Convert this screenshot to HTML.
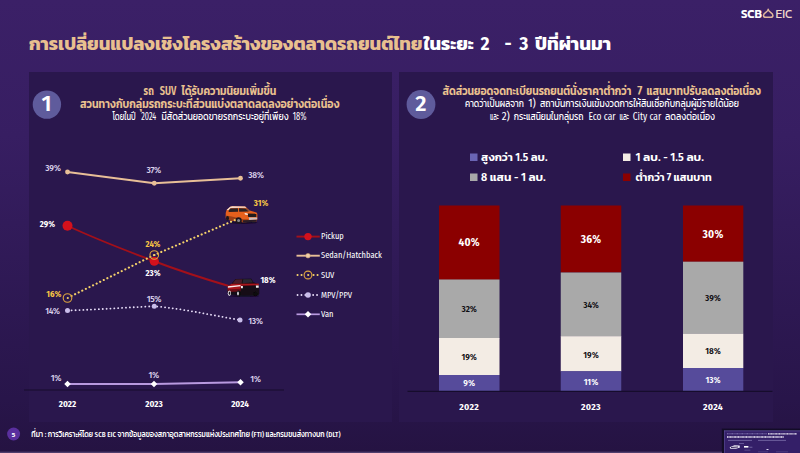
<!DOCTYPE html>
<html lang="th">
<head>
<meta charset="utf-8">
<title>SCB EIC</title>
<style>
html,body{margin:0;padding:0;background:#251342;}
body{width:800px;height:453px;overflow:hidden;position:relative;font-family:"Kanit","Liberation Sans","Noto Sans Thai","Loma",sans-serif;}
svg{position:absolute;left:0;top:0;display:block}
text{font-family:"Kanit","Liberation Sans","Noto Sans Thai","Loma",sans-serif;}
.la, .la text{font-family:"Fira Sans Condensed","Liberation Sans","Kanit",sans-serif;}
.mx, .mx text{font-family:"Fira Sans Condensed","Kanit","Liberation Sans","Noto Sans Thai",sans-serif;}
.tn{font-family:"Fira Sans","Liberation Sans",sans-serif !important;font-weight:700}
.num{font-family:"Fira Sans","Liberation Sans",sans-serif !important;font-weight:600}
.g{fill:#e9c08f}
.w{fill:#ffffff}
.lv{fill:#dad1ea}
.y{fill:#f6c544}
.b{font-weight:600}
.m{font-weight:500}
.r{font-weight:400}
.la .r{font-weight:500}
.pl .b{font-size:8.7px;font-weight:700;letter-spacing:0}
.l{font-weight:300}
.dk{fill:#0f0d12}
</style>
</head>
<body>
<svg width="800" height="453" viewBox="0 0 800 453">
<defs>
<linearGradient id="bg" x1="0" y1="0" x2="0" y2="1">
<stop offset="0" stop-color="#3b2067"/>
<stop offset="0.3" stop-color="#371e62"/>
<stop offset="0.88" stop-color="#28154a"/>
<stop offset="1" stop-color="#251342"/>
</linearGradient>
<linearGradient id="pn" x1="0" y1="0" x2="0" y2="1">
<stop offset="0" stop-color="#2a174d"/>
<stop offset="1" stop-color="#2a174d"/>
</linearGradient>
</defs>
<rect width="800" height="453" fill="url(#bg)"/>
<!-- panels -->
<rect x="29" y="72" width="363" height="350" fill="url(#pn)"/>
<rect x="399" y="72" width="374" height="350" fill="url(#pn)"/>

<!-- title -->
<text x="29" y="49.6" font-size="18.6" class="g" font-weight="700" textLength="393.5" lengthAdjust="spacingAndGlyphs">การเปลี่ยนแปลงเชิงโครงสร้างของตลาดรถยนต์ไทย</text>
<text x="423.8" y="49.6" font-size="18.6" class="w" font-weight="700" textLength="50" lengthAdjust="spacingAndGlyphs">ในระยะ</text>
<text x="485" y="49.6" font-size="17.5" class="w tn" text-anchor="middle">2</text>
<text x="508" y="49.6" font-size="17.5" class="w tn" text-anchor="middle">-</text>
<text x="523.8" y="49.6" font-size="17.5" class="w tn" text-anchor="middle">3</text>
<text x="535" y="49.6" font-size="18.6" class="w" font-weight="700" textLength="76" lengthAdjust="spacingAndGlyphs">ปีที่ผ่านมา</text>

<!-- logo -->
<g id="logo">
<text x="740.9" y="17.5" font-size="12" class="w b" textLength="21" lengthAdjust="spacingAndGlyphs">SCB</text>
<path d="M768.2 9.3 C768.2 12.2 763.5 12.6 763.5 15.4 C763.5 16.8 764.4 17.3 765.8 17.3 L770.6 17.3 C772 17.3 772.9 16.8 772.9 15.4 C772.9 12.6 768.2 12.2 768.2 9.3 Z" fill="none" stroke="#e0b79c" stroke-width="1.5" stroke-linejoin="round"/>
<text x="775.5" y="17.5" font-size="12" class="r" fill="#efd9cb" textLength="16.8" lengthAdjust="spacingAndGlyphs">EIC</text>
</g>

<!-- panel 1 header -->
<circle cx="46.9" cy="104.6" r="14.2" fill="#5f5b9c"/>
<text x="46.6" y="111.2" font-size="22" class="w num" text-anchor="middle">1</text>
<text x="143.6" y="95" font-size="12.5" class="g b mx hd" textLength="10.2" lengthAdjust="spacingAndGlyphs">รถ</text>
<text x="159.75" y="95" font-size="12.0" class="g b mx hd" textLength="16.5" lengthAdjust="spacingAndGlyphs">SUV</text>
<text x="181.5" y="95" font-size="12.5" class="g b mx hd" textLength="94.8" lengthAdjust="spacingAndGlyphs">ได้รับความนิยมเพิ่มขึ้น</text>
<text x="112.5" y="120" font-size="11.5" class="w r mx hd" textLength="23.1" lengthAdjust="spacingAndGlyphs">โดยในปี</text>
<text x="141.25" y="120" font-size="11.0" class="w r mx hd" textLength="15.0" lengthAdjust="spacingAndGlyphs">2024</text>
<text x="161.5" y="120" font-size="11.5" class="w r mx hd" textLength="127.1" lengthAdjust="spacingAndGlyphs">มีสัดส่วนยอดขายรถกระบะอยู่ที่เพียง</text>
<text x="292.8" y="120" font-size="11.0" class="w r mx hd" textLength="13.7" lengthAdjust="spacingAndGlyphs">18%</text>
<text x="80" y="107.5" font-size="12.5" class="g b mx" textLength="259.5" lengthAdjust="spacingAndGlyphs">สวนทางกับกลุ่มรถกระบะที่ส่วนแบ่งตลาดลดลงอย่างต่อเนื่อง</text>

<!-- chart 1 -->
<g id="chart1">
<line x1="24" y1="390" x2="284" y2="390" stroke="#160c2c" stroke-width="1.2"/>
<!-- sedan -->
<polyline points="67.5,172 154.25,183.25 240.5,178.25" fill="none" stroke="#e8bf97" stroke-width="1.8" stroke-linejoin="round"/>
<circle cx="67.5" cy="172" r="2.4" fill="#e8bf97"/><circle cx="154.25" cy="183.25" r="2.4" fill="#e8bf97"/><circle cx="240.5" cy="178.25" r="2.4" fill="#e8bf97"/>
<!-- pickup -->
<path d="M67.5 225.75 C100 241 125 250 154.25 261.25 C185 273 205 279 232 287" fill="none" stroke="#a3101a" stroke-width="1.9"/>
<g id="suv" filter="url(#sb)">
<ellipse cx="243" cy="222.6" rx="14.5" ry="1.3" fill="#120922" opacity="0.75"/>
<path d="M225.7 218 L225.7 213 L226.6 210 L229.3 207.4 C230.5 206.4 232 206.2 232.8 206.2 L245.1 206.6 L249.7 210.4 L256.4 212.6 C257.2 213 257.4 214 257.4 215 L257.3 219.4 L256.3 221.6 L243 222.3 L235.8 221.3 L228.9 219.9 L226.2 219.4 Z" fill="#e6601d"/>
<path d="M226.6 210 L229.3 207.4 C230.5 206.4 232 206.2 232.8 206.2 L245.1 206.6 L246.6 207.8 L231 207.9 L228.6 210.3 Z" fill="#f6ddcf"/>
<path d="M230.2 208.4 L237.9 208.3 L238.1 211.7 L228.6 211.9 L228.9 210.2 Z" fill="#2b2024"/>
<path d="M239 208.3 L245.4 208.4 L248.9 211.4 L239.2 211.7 Z" fill="#2b2024"/>
<path d="M246.3 208.2 L249.8 210.6 L249.6 211.6 L246 208.6 Z" fill="#54444a"/>
<path d="M225.7 215.6 L233 216.8 L243 219.2 L248.5 219.2 L248.5 222 L243 222.3 L235.8 221.3 L228.9 219.9 L226.2 219.4 Z" fill="#9c3f17"/>
<path d="M247.6 213.5 L256.3 213.8 L256.3 217 L248.3 217 Z" fill="#231a1f"/>
<path d="M244.5 213.1 L247.6 213.5 L247.9 214.9 L245 214.6 Z" fill="#fbf3ee"/>
<path d="M248.8 217.5 L257.2 217.4 L257.1 219.6 L249.2 219.9 Z" fill="#c9bfc4"/>
<path d="M243 220.2 L257 219.8 L256.3 221.7 L243 222.4 Z" fill="#2a1f26"/>
<circle cx="238.6" cy="220.4" r="3.1" fill="#1c161c"/><circle cx="238.6" cy="220.4" r="1.5" fill="#8a878d"/>
<ellipse cx="227.5" cy="218.3" rx="1.5" ry="2.4" fill="#1c161c"/>
</g>
<!-- suv dotted -->
<polyline points="71.5,296 154.25,255 236,219.6" fill="none" stroke="#f4d16a" stroke-width="2.1" stroke-dasharray="0.1 3.9" stroke-linecap="round"/>
<circle cx="67.5" cy="225.75" r="5" fill="#d3111c"/>
<circle cx="154.25" cy="261.25" r="4.6" fill="#d3111c"/>
<circle cx="67.5" cy="298" r="4.3" fill="none" stroke="#dfa63e" stroke-width="1.1"/><circle cx="67.8" cy="298" r="1.1" fill="#f4d16a"/>
<circle cx="154.25" cy="255" r="4.3" fill="none" stroke="#dfa63e" stroke-width="1.1"/><circle cx="154.5" cy="255" r="1.1" fill="#f4d16a"/>
<!-- mpv dotted -->
<path d="M67.5 310.5 C100 309.5 125 307.5 154.25 306.25 C185 309 210 315 240 320" fill="none" stroke="#e6dcf7" stroke-width="1.8" stroke-dasharray="0.1 3.8" stroke-linecap="round"/>
<circle cx="67.5" cy="310.5" r="2.5" fill="#c9bdea"/><circle cx="154.25" cy="306.25" r="2.5" fill="#c9bdea"/><circle cx="240" cy="320" r="2.5" fill="#c9bdea"/>
<!-- van -->
<polyline points="67.5,384 154,384 240.5,382.3" fill="none" stroke="#b99ae0" stroke-width="1.9"/>
<g fill="#ffffff"><rect x="-2.3" y="-2.3" width="4.6" height="4.6" transform="translate(67.5 384) rotate(45)"/><rect x="-2.3" y="-2.3" width="4.6" height="4.6" transform="translate(154 384) rotate(45)"/><rect x="-2.3" y="-2.3" width="4.6" height="4.6" transform="translate(240.5 382.3) rotate(45)"/></g>
<!-- labels -->
<g font-size="9.4" text-anchor="middle" class="la pl" letter-spacing="-0.3">
<text x="53" y="171" class="lv r">39%</text>
<text x="153.75" y="173" class="lv r">37%</text>
<text x="256" y="178" class="lv r">38%</text>
<text x="47.5" y="227" class="w b">29%</text>
<text x="153" y="247" class="y b">24%</text>
<text x="153" y="275.5" class="w b">23%</text>
<text x="261" y="205.5" class="y b">31%</text>
<text x="268" y="282.5" class="w b">18%</text>
<text x="53.75" y="296.75" class="y b">16%</text>
<text x="52.5" y="313.5" class="lv r">14%</text>
<text x="154" y="301.75" class="lv r">15%</text>
<text x="255.5" y="324" class="lv r">13%</text>
<text x="56" y="380.8" class="lv r">1%</text>
<text x="153.75" y="378" class="lv r">1%</text>
<text x="255.5" y="382" class="lv r">1%</text>
</g>
<g font-size="9" text-anchor="middle" class="w la" font-weight="700" letter-spacing="0">
<text x="67.5" y="407.1">2022</text><text x="154" y="407.1">2023</text><text x="240" y="407.1">2024</text>
</g>
<!-- legend -->
<g>
<line x1="296.5" y1="236.6" x2="319.8" y2="236.6" stroke="#a3101a" stroke-width="1.9"/><circle cx="308" cy="236.6" r="3.7" fill="#d3111c"/>
<line x1="296.5" y1="255.7" x2="319.8" y2="255.7" stroke="#e8bf97" stroke-width="1.9"/><circle cx="308" cy="255.7" r="2.3" fill="#f0cfa8" stroke="#c99d70" stroke-width="0.6"/>
<line x1="297.5" y1="275" x2="319.5" y2="275" stroke="#f4d16a" stroke-width="2" stroke-dasharray="0.1 3.9" stroke-linecap="round"/><circle cx="308" cy="275" r="3.9" fill="#2a174d" stroke="#dfa63e" stroke-width="1.1"/><circle cx="308.2" cy="275" r="1.1" fill="#f4d16a"/>
<line x1="297.5" y1="295" x2="319.5" y2="295" stroke="#e6dcf7" stroke-width="1.8" stroke-dasharray="0.1 3.8" stroke-linecap="round"/><circle cx="308" cy="295" r="2.8" fill="#c9bdea"/>
<line x1="296.5" y1="314.3" x2="319.8" y2="314.3" stroke="#b99ae0" stroke-width="1.7"/><rect x="-2.3" y="-2.3" width="4.6" height="4.6" fill="#fff" transform="translate(308 314.3) rotate(45)"/>
<g font-size="8.4" class="w r la">
<text x="321" y="239.3">Pickup</text>
<text x="321" y="258.4">Sedan/Hatchback</text>
<text x="321" y="277.7">SUV</text>
<text x="321" y="297.7">MPV/PPV</text>
<text x="321" y="317">Van</text>
</g>
</g>
</g>


<!-- cars -->
<defs><filter id="sb" x="-10%" y="-10%" width="120%" height="120%"><feGaussianBlur stdDeviation="0.35"/></filter></defs>
<g id="truck" filter="url(#sb)">
<ellipse cx="244" cy="296" rx="15" ry="1.1" fill="#120922" opacity="0.75"/>
<path d="M227.6 292.6 L227.7 286 L231.5 283.8 L235.5 278.9 L251.3 278.8 L253.6 282.4 L258.6 283.9 L259.2 285.4 L259.2 294 L257.8 295.4 L241.3 295.4 L229 294.6 Z" fill="#141014"/>
<path d="M232.4 283.6 L235.7 279.4 L242.4 279.2 L241.6 283.4 Z" fill="#4c1c2a"/>
<path d="M243.2 279.2 L251 279.2 L253 282.6 L242.6 283.2 Z" fill="#2b2630"/>
<path d="M227.7 286 L231.5 283.8 L258.6 283.6 L259.2 285.2 L241 285.8 L240.4 290 L227.7 290.6 Z" fill="#a9131d"/>
<path d="M227.9 286.3 L240.4 285.1 L240.6 286.3 L227.9 287.7 Z" fill="#fbeeec"/>
<path d="M227.8 289.4 L240.5 288.8 L240.6 291.4 L227.8 292 Z" fill="#6a1119"/>
<path d="M240.9 285.9 L242.9 285.9 L242.9 288.2 L241 288.2 Z" fill="#f4eef2"/>
<path d="M255.9 285.5 L258.7 285.5 L258.7 287.8 L256 287.8 Z" fill="#f4eef2"/>
<ellipse cx="229.4" cy="293.2" rx="1.6" ry="2.7" fill="#e6e2e8"/><ellipse cx="229.5" cy="293.2" rx="0.8" ry="1.6" fill="#1a141b"/>
<ellipse cx="238.6" cy="293.4" rx="2.1" ry="2.9" fill="#0e0b10"/><ellipse cx="238" cy="293.5" rx="0.9" ry="2" fill="#dcd8e0"/>
<ellipse cx="255.3" cy="294" rx="2.1" ry="2.2" fill="#09070a"/>
</g>
<!-- thumbnail -->
<g id="thumb">
<rect x="721.8" y="428.6" width="79" height="26" fill="#130c27"/>
<rect x="724" y="430.6" width="77" height="24" fill="#341f68"/>
<rect x="724" y="430.6" width="77" height="0.6" fill="#6d5fa8"/><rect x="724" y="430.6" width="0.6" height="24" fill="#5d4f98"/>
<line x1="727" y1="433.8" x2="767" y2="433.8" stroke="#8f82bd" stroke-width="0.9" stroke-dasharray="1.1 0.4 0.7 0.3"/><line x1="768" y1="433.8" x2="797" y2="433.8" stroke="#f4f0fb" stroke-width="1.3" stroke-dasharray="1.2 0.4 0.8 0.3"/>
<line x1="727" y1="437" x2="784" y2="437" stroke="#f4f0fb" stroke-width="1.3" stroke-dasharray="1.2 0.4 0.8 0.3"/>
<rect x="728" y="439.9" width="24" height="0.8" fill="#7c6fac"/><rect x="758" y="439.9" width="28" height="0.8" fill="#7c6fac"/>
<rect x="739" y="443" width="5" height="0.7" fill="#7c6fac"/>
<path d="M729.6 447.2 L734.5 445.2 L739.6 445.6 L740 447.6 L736 448.8 L730.4 448.8 Z" fill="#e9e6f2"/><path d="M731 447 L738 446.4 L738 447.4 L731 448 Z" fill="#3a2a5e"/>
<rect x="744" y="446" width="4.4" height="1.6" fill="#ffffff"/><rect x="749.4" y="446.8" width="3" height="0.7" fill="#8d81b8"/>
<rect x="744.4" y="449.8" width="6" height="0.6" fill="#6d61a0"/>
<rect x="766.5" y="449" width="2" height="1" fill="#d9d2ee"/><rect x="758" y="451.6" width="10" height="0.6" fill="#5d5190"/><rect x="776" y="451.6" width="12" height="0.6" fill="#5d5190"/>
</g>

<!-- panel 2 header -->
<circle cx="421" cy="104.5" r="14.4" fill="#5f5b9c"/>
<text x="421" y="111.2" font-size="22" class="w num" text-anchor="middle">2</text>

<text x="442.5" y="94.5" font-size="12.5" class="g b mx hd" textLength="188.8" lengthAdjust="spacingAndGlyphs">สัดส่วนยอดจดทะเบียนรถยนต์นั่งราคาต่ำกว่า</text>
<text x="639.8" y="94.5" font-size="12.0" class="g b mx hd" text-anchor="middle">7</text>
<text x="646.5" y="94.5" font-size="12.5" class="g b mx hd" textLength="114.5" lengthAdjust="spacingAndGlyphs">แสนบาทปรับลดลงต่อเนื่อง</text>
<text x="465" y="107" font-size="11.5" class="w r mx hd" textLength="58.8" lengthAdjust="spacingAndGlyphs">คาดว่าเป็นผลจาก</text>
<text x="532.0" y="107" font-size="11.0" class="w r mx hd" text-anchor="middle">1)</text>
<text x="540" y="107" font-size="11.5" class="w r mx hd" textLength="199.0" lengthAdjust="spacingAndGlyphs">สถาบันการเงินเข้มงวดการให้สินเชื่อกับกลุ่มผู้มีรายได้น้อย</text>
<text x="490" y="120" font-size="11.5" class="w r mx hd" textLength="8.8" lengthAdjust="spacingAndGlyphs">และ</text>
<text x="505.8" y="120" font-size="11.0" class="w r mx hd" text-anchor="middle">2)</text>
<text x="513.75" y="120" font-size="11.5" class="w r mx hd" textLength="69.8" lengthAdjust="spacingAndGlyphs">กระแสนิยมในกลุ่มรถ</text>
<text x="588.5" y="120" font-size="11.0" class="w r mx hd" textLength="27.1" lengthAdjust="spacingAndGlyphs">Eco car</text>
<text x="619.4" y="120" font-size="11.5" class="w r mx hd" textLength="9.6" lengthAdjust="spacingAndGlyphs">และ</text>
<text x="632.75" y="120" font-size="11.0" class="w r mx hd" textLength="28.5" lengthAdjust="spacingAndGlyphs">City car</text>
<text x="665" y="120" font-size="11.5" class="w r mx hd" textLength="50.1" lengthAdjust="spacingAndGlyphs">ลดลงต่อเนื่อง</text>

<!-- legend 2 -->
<rect x="470" y="153.5" width="7.5" height="7.5" fill="#6a64b4"/>
<rect x="470" y="173.5" width="7.5" height="7.5" fill="#a9a9a9"/>
<rect x="623" y="153.5" width="7.5" height="7.5" fill="#f3ece4"/>
<rect x="623" y="173.5" width="7.5" height="7.5" fill="#8b0000"/>
<g font-size="11" class="w b mx">
<text x="481" y="161" textLength="66.5" lengthAdjust="spacingAndGlyphs">สูงกว่า 1.5 ลบ.</text>
<text x="481" y="181" textLength="64.8" lengthAdjust="spacingAndGlyphs">8 แสน - 1 ลบ.</text>
<text x="635.5" y="161" textLength="68.5" lengthAdjust="spacingAndGlyphs">1 ลบ. - 1.5 ลบ.</text>
<text x="635.5" y="181" textLength="76.2" lengthAdjust="spacingAndGlyphs">ต่ำกว่า 7 แสนบาท</text>
</g>

<!-- bars -->
<g id="bars">
<rect x="439" y="205.5" width="60.5" height="74.3" fill="#8b0000"/>
<rect x="439" y="279.5" width="60.5" height="59" fill="#a9a9a9"/>
<rect x="439" y="338" width="60.5" height="37" fill="#f3ece4"/>
<rect x="439" y="375" width="60.5" height="16.3" fill="#564b9b"/>

<rect x="560.75" y="205.5" width="60.5" height="67" fill="#8b0000"/>
<rect x="560.75" y="272.5" width="60.5" height="64" fill="#a9a9a9"/>
<rect x="560.75" y="336.2" width="60.5" height="35.2" fill="#f3ece4"/>
<rect x="560.75" y="371.2" width="60.5" height="20.1" fill="#564b9b"/>

<rect x="683" y="205.5" width="60.3" height="56.3" fill="#8b0000"/>
<rect x="683" y="261.7" width="60.3" height="72.2" fill="#a9a9a9"/>
<rect x="683" y="333.8" width="60.3" height="34.3" fill="#f3ece4"/>
<rect x="683" y="368" width="60.3" height="23.3" fill="#564b9b"/>
<line x1="407.5" y1="391.3" x2="772.5" y2="391.3" stroke="#160c2c" stroke-width="1.2"/>

<g font-size="11.2" text-anchor="middle" class="w la" font-weight="700" letter-spacing="0.2">
<text x="469.2" y="246.3">40%</text><text x="591" y="242.9">36%</text><text x="713" y="237.5">30%</text>
</g>
<g font-size="9.1" text-anchor="middle" class="dk la" font-weight="600">
<text x="469.2" y="312">32%</text><text x="591" y="307.7">34%</text><text x="713" y="300.7">39%</text>
<text x="469.2" y="359.5">19%</text><text x="591" y="357.5">19%</text><text x="713" y="354">18%</text>
</g>
<g font-size="9.1" text-anchor="middle" class="w la" font-weight="600">
<text x="469.2" y="386.2">9%</text><text x="591" y="384.5">11%</text><text x="713" y="382.7">13%</text>
</g>
<g font-size="9.7" text-anchor="middle" class="w la" font-weight="700" letter-spacing="0.3">
<text x="469.2" y="410.4">2022</text><text x="591" y="410.4">2023</text><text x="713" y="410.4">2024</text>
</g>
</g>

<!-- footer -->
<circle cx="13.6" cy="434" r="6.5" fill="#5a2f9e"/>
<text x="13.6" y="436.5" font-size="6.8" class="w b" text-anchor="middle">5</text>
<text x="31.3" y="436.8" font-size="8" class="w m mx" textLength="309.2" lengthAdjust="spacingAndGlyphs">ที่มา : การวิเคราะห์โดย SCB EIC จากข้อมูลของสภาอุตสาหกรรมแห่งประเทศไทย (FTI) และกรมขนส่งทางบก (DLT)</text>
<rect x="0" y="451.6" width="722" height="1.4" fill="#5a4a78" opacity="0.8"/>
</svg>
</body>
</html>
